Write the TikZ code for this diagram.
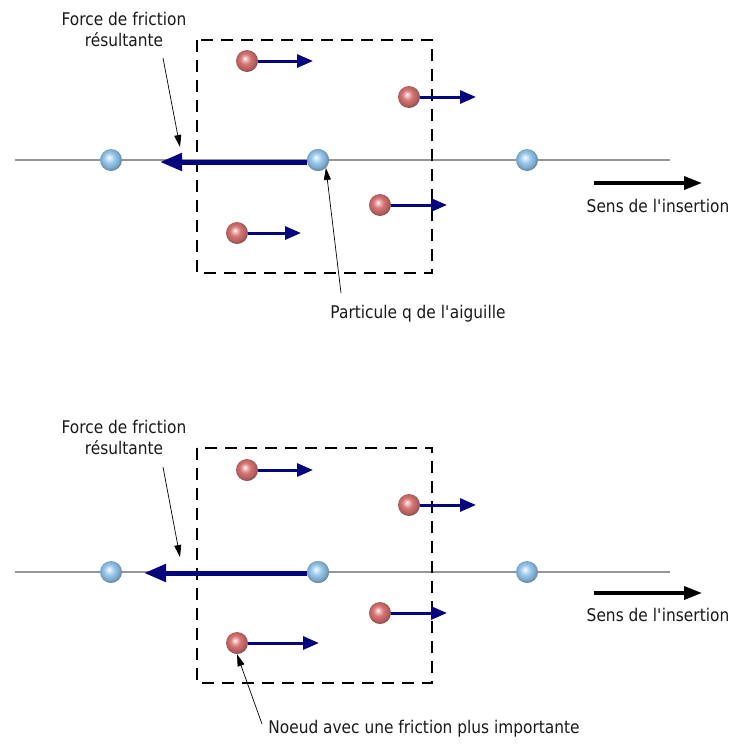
\documentclass[tikz,border=0pt]{standalone}
\usepackage{fontspec}
\setmainfont{DejaVu Sans}[FakeStretch=0.88]
\usetikzlibrary{arrows.meta}
\definecolor{arrblue}{RGB}{5,5,125}
\definecolor{ballblue}{RGB}{150,200,238}
\definecolor{ballred}{RGB}{215,115,115}
\definecolor{axisgray}{RGB}{150,150,150}
\definecolor{txt}{RGB}{25,25,25}
\pgfdeclareradialshading{bshade}{\pgfpoint{-5bp}{6bp}}{color(0bp)=(white); color(3bp)=(ballblue!30!white); color(12bp)=(ballblue); color(22bp)=(ballblue!82!black); color(26bp)=(ballblue!68!black); color(50bp)=(ballblue!68!black)}
\pgfdeclareradialshading{rshade}{\pgfpoint{-5bp}{6bp}}{color(0bp)=(white); color(3bp)=(ballred!35!white); color(12bp)=(ballred); color(22bp)=(ballred!82!black); color(26bp)=(ballred!68!black); color(50bp)=(ballred!68!black)}
\tikzset{
  needleball/.style={circle, inner sep=0pt, minimum size=22pt, shading=bshade},
  nodeball/.style={circle, inner sep=0pt, minimum size=22pt, shading=rshade},
  vel/.style={draw=arrblue, line width=3pt, -{Triangle[length=16pt,width=13pt]}},
  friction/.style={draw=arrblue, line width=5pt, -{Triangle[length=22pt,width=17pt]}},
  sens/.style={draw=black, line width=3.5pt, -{Triangle[length=18pt,width=13pt]}},
  pointer/.style={draw=black, line width=0.7pt, -{Triangle[length=12pt,width=7pt]}},
  region/.style={draw=black, line width=1.3pt, dash pattern=on 12pt off 8pt},
  axis/.style={draw=axisgray, line width=1.2pt},
  lbl/.style={font=\fontsize{17.5}{21}\selectfont, text=txt, align=center, inner sep=0pt}
}
\begin{document}
\begin{tikzpicture}[x=1pt,y=-1pt]
\useasboundingbox (0,0) rectangle (733,747);
% ===== top panel =====
\coordinate (a1L) at (15,160);
\coordinate (a1R) at (670,160);
\draw[axis] (a1L) -- (a1R);
\draw[region] (197,40) rectangle (432,273);
\node[needleball] (b1a) at (111,160) {};
\node[needleball] (q1) at (318,160) {};
\node[needleball] (b1c) at (527,160) {};
\coordinate (f1) at (160,162);
\draw[friction] (q1.west |- f1) -- (f1);
\node[needleball] at (q1) {};
\node[nodeball] (r1a) at (247,61) {};
\node[nodeball] (r1b) at (409,97) {};
\node[nodeball] (r1c) at (380,205) {};
\node[nodeball] (r1d) at (237,233) {};
\coordinate (v1a) at (313,61);
\coordinate (v1b) at (476,97);
\coordinate (v1c) at (447,205);
\coordinate (v1d) at (301,233);
\draw[vel] (r1a.east) -- (v1a);
\draw[vel] (r1b.east) -- (v1b);
\draw[vel] (r1c.east) -- (v1c);
\draw[vel] (r1d.east) -- (v1d);
\node[lbl] (t1) at (124,29) {Force de friction\\résultante};
\coordinate (p1s) at (163,58);
\coordinate (p1e) at (180,147);
\draw[pointer] (p1s) -- (p1e);
\coordinate (s1s) at (594,183);
\coordinate (s1e) at (702,183);
\draw[sens] (s1s) -- (s1e);
\node[lbl] (st1) at (658,206) {Sens de l\textquotesingle insertion};
\node[lbl] (pq) at (418,314) {Particule q de l\textquotesingle aiguille};
\coordinate (p2s) at (341,293);
\draw[pointer] (p2s) -- (q1.south east);
% ===== bottom panel =====
\coordinate (a2L) at (15,572);
\coordinate (a2R) at (670,572);
\draw[axis] (a2L) -- (a2R);
\draw[region] (197,448) rectangle (432,683);
\node[needleball] (b2a) at (111,572) {};
\node[needleball] (q2) at (318,572) {};
\node[needleball] (b2c) at (527,572) {};
\coordinate (f2) at (144,573);
\draw[friction] (q2.west |- f2) -- (f2);
\node[needleball] at (q2) {};
\node[nodeball] (r2a) at (247,470) {};
\node[nodeball] (r2b) at (409,505) {};
\node[nodeball] (r2c) at (380,613) {};
\node[nodeball] (r2d) at (237,643) {};
\coordinate (v2a) at (313,470);
\coordinate (v2b) at (476,505);
\coordinate (v2c) at (447,613);
\coordinate (v2d) at (319,643);
\draw[vel] (r2a.east) -- (v2a);
\draw[vel] (r2b.east) -- (v2b);
\draw[vel] (r2c.east) -- (v2c);
\draw[vel] (r2d.east) -- (v2d);
\node[lbl] (t2) at (124,437) {Force de friction\\résultante};
\coordinate (p3s) at (163,467);
\coordinate (p3e) at (180,557);
\draw[pointer] (p3s) -- (p3e);
\coordinate (s2s) at (594,593);
\coordinate (s2e) at (702,593);
\draw[sens] (s2s) -- (s2e);
\node[lbl] (st2) at (658,615) {Sens de l\textquotesingle insertion};
\node[lbl] (nf) at (424,729) {Noeud avec une friction plus importante};
\coordinate (p4s) at (262,724);
\draw[pointer] (p4s) -- (r2d.south);
\end{tikzpicture}
\end{document}
